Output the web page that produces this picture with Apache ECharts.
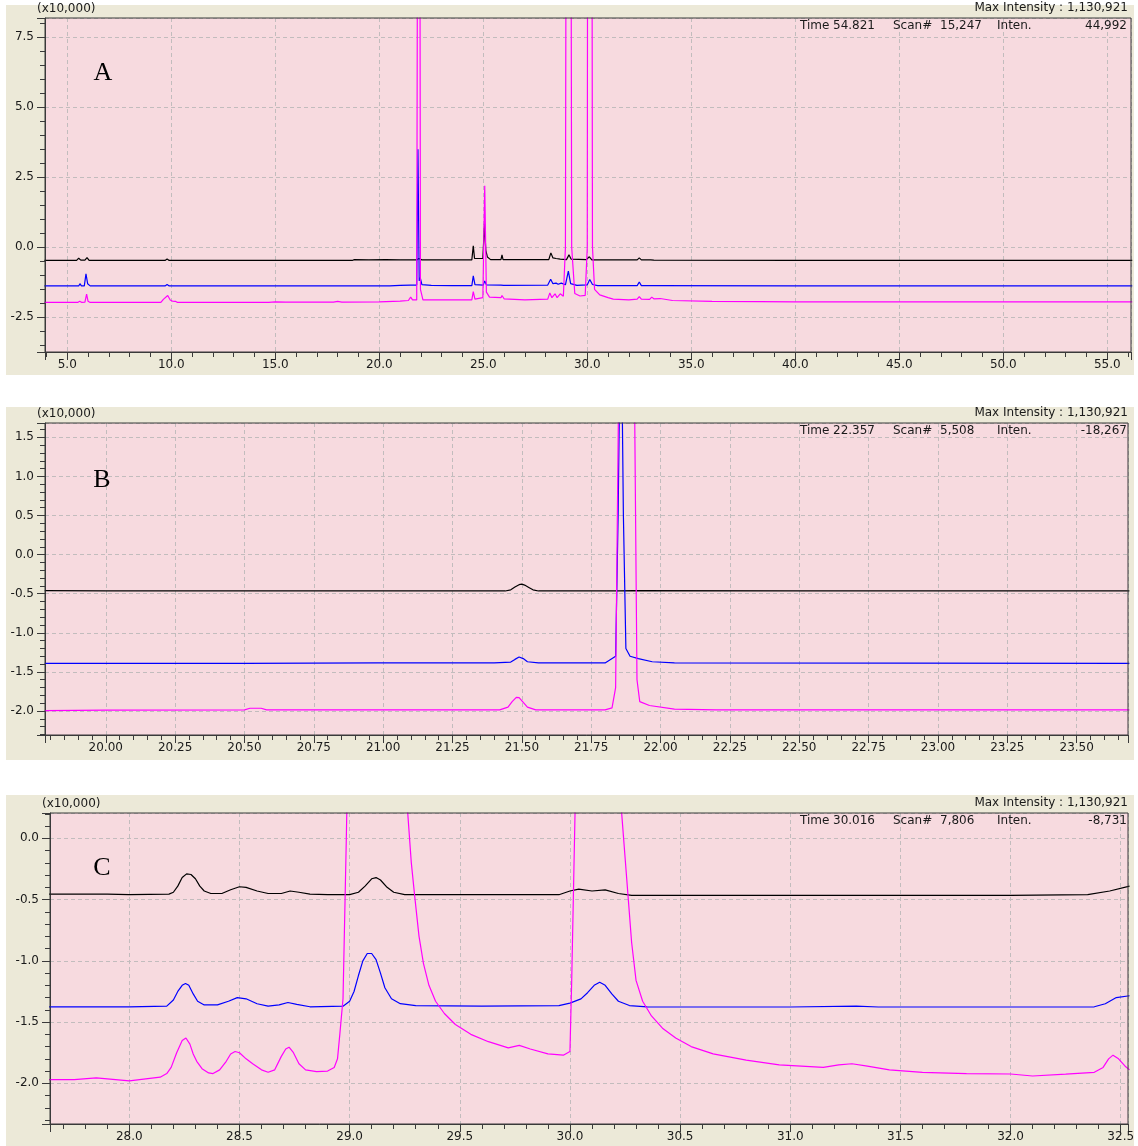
<!DOCTYPE html>
<html>
<head>
<meta charset="utf-8">
<script src="https://cdn.jsdelivr.net/npm/echarts@6.0.0/dist/echarts.min.js"></script>
<style>
html, body { margin: 0; padding: 0; background: #fff; }
#main { width: 1138px; height: 1146px; }
</style>
</head>
<body>
<div id="main"></div>
<script>
// chromatogram traces, [time (min), intensity (x10,000)]

// panel A, full run
const aBlack = [
  [3.9, -0.47], [5.45, -0.47], [5.55, -0.39], [5.65, -0.46], [5.85, -0.46], [5.95, -0.37], [6.05, -0.47],
  [9.7, -0.47], [9.8, -0.42], [9.9, -0.47], [18.7, -0.47], [18.8, -0.44], [19.5, -0.45], [20.3, -0.44],
  [21.0, -0.45], [21.8, -0.45], [21.9, -0.4], [22.05, -0.45], [24.45, -0.45], [24.52, 0.05], [24.58, -0.4],
  [24.98, -0.4], [25.06, 0.85], [25.12, -0.1], [25.2, -0.35], [25.35, -0.44], [25.85, -0.44], [25.9, -0.27],
  [25.95, -0.44], [27.0, -0.44], [28.15, -0.44], [28.25, -0.2], [28.35, -0.38], [28.5, -0.4], [28.7, -0.42],
  [29.0, -0.44], [29.12, -0.27], [29.22, -0.42], [29.95, -0.44], [30.1, -0.34], [30.22, -0.45], [32.4, -0.45],
  [32.5, -0.38], [32.6, -0.45], [33.05, -0.45], [33.1, -0.4], [33.2, -0.46], [40.0, -0.47], [55.0, -0.47], [56.2, -0.47]
];
const aBlue = [
  [3.9, -1.38], [5.55, -1.38], [5.61, -1.3], [5.68, -1.38], [5.82, -1.38], [5.9, -0.95], [5.98, -1.3], [6.1, -1.38],
  [9.7, -1.38], [9.8, -1.33], [9.9, -1.38], [20.5, -1.38], [21.0, -1.36], [21.5, -1.35], [21.8, -1.35],
  [21.86, 3.5], [21.92, -1.2], [21.97, -1.08], [22.05, -1.33], [22.5, -1.36], [23.5, -1.37], [24.45, -1.37],
  [24.52, -1.02], [24.6, -1.33], [25.0, -1.35], [25.07, -1.2], [25.15, -1.34], [25.85, -1.35], [25.9, -1.28],
  [25.98, -1.36], [28.1, -1.35], [28.24, -1.14], [28.35, -1.3], [28.5, -1.28], [28.6, -1.32], [28.75, -1.28],
  [28.95, -1.34], [29.09, -0.85], [29.2, -1.3], [29.5, -1.36], [30.0, -1.34], [30.12, -1.15], [30.25, -1.33],
  [30.5, -1.37], [32.4, -1.37], [32.5, -1.24], [32.6, -1.37], [33.05, -1.37], [33.1, -1.3], [33.2, -1.37],
  [40.0, -1.38], [56.2, -1.38]
];
const aMagenta = [
  [3.9, -1.97], [5.5, -1.97], [5.6, -1.93], [5.7, -1.97], [5.85, -1.96], [5.93, -1.67], [6.0, -1.93], [6.1, -1.97],
  [9.5, -1.97], [9.62, -1.86], [9.7, -1.88], [9.83, -1.72], [9.95, -1.88], [10.05, -1.92], [10.2, -1.93], [10.3, -1.97],
  [14.5, -1.97], [14.59, -1.92], [14.68, -1.97], [15.0, -1.95], [15.5, -1.96], [17.8, -1.96], [18.0, -1.93],
  [18.2, -1.96], [20.0, -1.95], [21.0, -1.92], [21.4, -1.9], [21.51, -1.78], [21.6, -1.88], [21.8, -1.88],
  [21.86, 20], [21.92, 30], [21.98, -1.5], [22.1, -1.88], [24.45, -1.88], [24.52, -1.58], [24.6, -1.85],
  [24.98, -1.8], [25.07, 2.2], [25.15, -1.6], [25.3, -1.78], [25.85, -1.8], [25.9, -1.72], [26.0, -1.84],
  [27.0, -1.88], [28.1, -1.85], [28.2, -1.63], [28.3, -1.8], [28.45, -1.66], [28.55, -1.8], [28.7, -1.66],
  [28.85, -1.75], [28.95, 0], [29.1, 60], [29.25, 0], [29.4, -1.65], [29.65, -1.74], [29.9, -1.72], [30.0, 0],
  [30.1, 80], [30.25, 0], [30.35, -1.5], [30.6, -1.7], [31.0, -1.8], [31.25, -1.85], [32.0, -1.88], [32.4, -1.85],
  [32.5, -1.76], [32.6, -1.85], [33.0, -1.86], [33.1, -1.78], [33.2, -1.84], [33.5, -1.83], [34.1, -1.9],
  [36.0, -1.93], [38.3, -1.94], [40.0, -1.95], [56.2, -1.95]
];

// panel B, 19.8 - 23.7 min
const bBlack = [
  [19.78, -0.46], [20.0, -0.465], [20.5, -0.465], [21.0, -0.465], [21.44, -0.465], [21.46, -0.45], [21.475, -0.415],
  [21.49, -0.385], [21.5, -0.378], [21.51, -0.39], [21.525, -0.42], [21.54, -0.45], [21.56, -0.465], [21.85, -0.465],
  [21.9, -0.46], [22.5, -0.465], [23.0, -0.465], [23.69, -0.465]
];
const bBlue = [
  [19.78, -1.39], [20.5, -1.39], [20.98, -1.385], [21.4, -1.385], [21.46, -1.375], [21.475, -1.34], [21.49, -1.31],
  [21.505, -1.33], [21.52, -1.37], [21.56, -1.385], [21.8, -1.385], [21.838, -1.3], [21.847, 0.5], [21.857, 3.5],
  [21.866, 0.5], [21.875, -1.2], [21.89, -1.3], [21.92, -1.33], [21.97, -1.37], [22.05, -1.385], [23.69, -1.39]
];
const bMagenta = [
  [19.78, -1.995], [20.0, -1.99], [20.5, -1.985], [20.52, -1.965], [20.56, -1.965], [20.58, -1.985], [21.0, -1.985],
  [21.42, -1.985], [21.45, -1.95], [21.465, -1.88], [21.48, -1.825], [21.49, -1.83], [21.505, -1.89], [21.52, -1.95],
  [21.55, -1.985], [21.8, -1.985], [21.825, -1.96], [21.838, -1.7], [21.85, 2.5], [21.88, 12], [21.905, 2.5],
  [21.915, -1.6], [21.925, -1.88], [21.96, -1.93], [22.05, -1.975], [22.2, -1.985], [23.69, -1.985]
];

// panel C, 27.6 - 32.5 min
const cBlack = [
  [27.6, -0.455], [27.9, -0.455], [28.0, -0.46], [28.18, -0.455], [28.2, -0.44], [28.22, -0.39], [28.24, -0.32],
  [28.26, -0.29], [28.28, -0.295], [28.3, -0.33], [28.32, -0.39], [28.34, -0.43], [28.37, -0.45], [28.42, -0.45],
  [28.46, -0.42], [28.5, -0.395], [28.53, -0.4], [28.58, -0.43], [28.63, -0.45], [28.69, -0.45], [28.73, -0.43],
  [28.77, -0.44], [28.82, -0.455], [28.9, -0.46], [29.0, -0.46], [29.04, -0.44], [29.07, -0.39], [29.1, -0.33],
  [29.12, -0.32], [29.14, -0.34], [29.17, -0.4], [29.2, -0.44], [29.25, -0.46], [29.5, -0.46], [29.95, -0.46],
  [30.0, -0.43], [30.04, -0.415], [30.1, -0.43], [30.16, -0.42], [30.22, -0.45], [30.28, -0.465], [31.0, -0.465],
  [31.5, -0.465], [32.0, -0.465], [32.35, -0.46], [32.45, -0.43], [32.54, -0.39]
];
const cBlue = [
  [27.6, -1.375], [28.0, -1.375], [28.17, -1.37], [28.2, -1.32], [28.22, -1.25], [28.24, -1.2], [28.255, -1.185],
  [28.27, -1.2], [28.29, -1.27], [28.31, -1.33], [28.34, -1.36], [28.4, -1.36], [28.45, -1.33], [28.49, -1.3],
  [28.53, -1.31], [28.58, -1.35], [28.63, -1.37], [28.68, -1.36], [28.72, -1.34], [28.76, -1.355], [28.82, -1.375],
  [28.97, -1.37], [29.0, -1.33], [29.02, -1.25], [29.04, -1.12], [29.06, -1.0], [29.08, -0.94], [29.1, -0.94],
  [29.12, -0.99], [29.14, -1.1], [29.16, -1.22], [29.19, -1.31], [29.23, -1.35], [29.3, -1.365], [29.6, -1.37],
  [29.95, -1.365], [30.0, -1.345], [30.05, -1.31], [30.08, -1.26], [30.11, -1.2], [30.135, -1.175], [30.16, -1.2],
  [30.19, -1.27], [30.22, -1.33], [30.27, -1.365], [30.35, -1.375], [31.0, -1.377], [31.3, -1.37], [31.4, -1.377],
  [32.0, -1.377], [32.38, -1.375], [32.43, -1.35], [32.48, -1.3], [32.54, -1.285]
];
const cMagenta = [
  [27.6, -1.97], [27.75, -1.97], [27.85, -1.955], [28.0, -1.98], [28.14, -1.95], [28.17, -1.92], [28.19, -1.87],
  [28.215, -1.75], [28.24, -1.65], [28.257, -1.63], [28.275, -1.68], [28.29, -1.76], [28.306, -1.82], [28.33, -1.88],
  [28.36, -1.915], [28.38, -1.92], [28.41, -1.89], [28.44, -1.82], [28.46, -1.76], [28.48, -1.74], [28.5, -1.75],
  [28.53, -1.8], [28.56, -1.84], [28.6, -1.89], [28.63, -1.91], [28.66, -1.89], [28.69, -1.78], [28.71, -1.72],
  [28.725, -1.705], [28.745, -1.75], [28.77, -1.84], [28.8, -1.89], [28.85, -1.905], [28.9, -1.9], [28.93, -1.87],
  [28.945, -1.8], [28.956, -1.59], [28.97, -1.31], [28.985, 0], [29.0, 1.5], [29.1, 40], [29.2, 3], [29.264, 0.2],
  [29.28, -0.2], [29.297, -0.5], [29.315, -0.8], [29.335, -1.02], [29.36, -1.2], [29.39, -1.33], [29.43, -1.43],
  [29.48, -1.52], [29.55, -1.6], [29.63, -1.66], [29.72, -1.71], [29.77, -1.69], [29.82, -1.72], [29.9, -1.76],
  [29.97, -1.77], [30.0, -1.74], [30.008, -1.16], [30.023, 0.2], [30.1, 60], [30.235, 0.2], [30.25, -0.15],
  [30.265, -0.5], [30.28, -0.85], [30.3, -1.16], [30.33, -1.33], [30.37, -1.45], [30.42, -1.55], [30.48, -1.63],
  [30.55, -1.7], [30.65, -1.76], [30.8, -1.81], [30.95, -1.85], [31.05, -1.86], [31.15, -1.87], [31.22, -1.85],
  [31.28, -1.84], [31.35, -1.86], [31.45, -1.89], [31.6, -1.91], [31.8, -1.92], [32.0, -1.924], [32.1, -1.94],
  [32.25, -1.925], [32.38, -1.91], [32.42, -1.87], [32.445, -1.8], [32.465, -1.77], [32.49, -1.8], [32.52, -1.86],
  [32.54, -1.89]
];

// header texts
const panelNames = ['A', 'B', 'C'];
const headerTime = ['54.821', '22.357', '30.016'];
const headerScan = ['15,247', '5,508', '7,806'];
const headerInten = ['44,992', '-18,267', '-8,731'];
const maxIntensity = 'Max Intensity : 1,130,921';
const yUnit = '(x10,000)';

// layout per panel
const panels = [
  { grid: { left: 45, top: 18, width: 1086, height: 334 }, bgTop: 5, bgH: 370, letter: [103, 73],
    x: [3.93, 56.14, 5, 1], y: [-3.74, 8.19, 2.5, 1] },
  { grid: { left: 45, top: 423, width: 1083, height: 312 }, bgTop: 407, bgH: 353, letter: [102, 480],
    x: [19.781, 23.685, 0.25, 2], y: [-2.307, 1.683, 0.5, 1] },
  { grid: { left: 50, top: 813, width: 1078, height: 311 }, bgTop: 795, bgH: 351, letter: [102, 868],
    x: [27.64, 32.533, 0.5, 1], y: [-2.332, 0.207, 0.5, 1] }
];
const traces = [[aBlack, aBlue, aMagenta], [bBlack, bBlue, bMagenta], [cBlack, cBlue, cMagenta]];
const colors = ['#000000', '#0000ff', '#ff00ff'];

const dark = '#3a3a3a';
const txt = '#1a1a1a';
const font = 'DejaVu Sans';

function axisOf(i, r, isX) {
  const step = r[2], digits = r[3];
  return {
    type: 'value', gridIndex: i, min: r[0], max: r[1],
    minInterval: step, maxInterval: step,
    axisLine: { show: true, onZero: false, lineStyle: { color: dark, width: 1 } },
    axisTick: { show: true, length: 8, lineStyle: { color: dark } },
    minorTick: { show: true, splitNumber: 5, length: 5, lineStyle: { color: dark } },
    splitLine: { show: true, lineStyle: { color: '#c2bcbd', type: [4, 3], width: 1 } },
    axisLabel: {
      showMinLabel: true, showMaxLabel: true,
      formatter: function (v) {
        const k = v / step;
        if (Math.abs(k - Math.round(k)) > 1e-6) return '';
        return v.toFixed(digits);
      },
      color: txt, fontFamily: font, fontSize: 12, margin: isX ? 7 : 11
    }
  };
}

const grids = [], xAxes = [], yAxes = [], series = [], graphic = [];
panels.forEach(function (p, i) {
  grids.push(Object.assign({ show: true, backgroundColor: '#f7dadf', borderWidth: 0 }, p.grid));
  xAxes.push(axisOf(i, p.x, true));
  yAxes.push(axisOf(i, p.y, false));
  traces[i].forEach(function (d, j) {
    series.push({
      type: 'line', xAxisIndex: i, yAxisIndex: i, data: d,
      symbol: 'none', showSymbol: false, clip: true, silent: true,
      lineStyle: { color: colors[j], width: 1.2 }, itemStyle: { color: colors[j] }
    });
  });
  const g = p.grid;
  graphic.push({ type: 'rect', z: -10, shape: { x: 6, y: p.bgTop, width: 1128, height: p.bgH }, style: { fill: '#ece9d8' } });
  graphic.push({ type: 'rect', z: 100, shape: { x: g.left, y: g.top, width: g.width, height: g.height }, style: { fill: null, stroke: dark, lineWidth: 1 } });
  const t = function (text, x, y, align) {
    return { type: 'text', z: 101, x: x, y: y, style: { text: text, fill: txt, font: '12px "' + font + '"', align: align || 'left', verticalAlign: 'middle' } };
  };
  graphic.push(t(yUnit, g.left - 8, g.top - 9));
  graphic.push(t(maxIntensity, 1128, g.top - 10, 'right'));
  graphic.push(t('Time', 800, g.top + 8));
  graphic.push(t(headerTime[i], 833, g.top + 8));
  graphic.push(t('Scan#', 893, g.top + 8));
  graphic.push(t(headerScan[i], 940, g.top + 8));
  graphic.push(t('Inten.', 997, g.top + 8));
  graphic.push(t(headerInten[i], 1127, g.top + 8, 'right'));
  graphic.push({ type: 'text', z: 101, x: p.letter[0], y: p.letter[1],
    style: { text: panelNames[i], fill: '#000', font: '26px "Liberation Serif"', align: 'center', verticalAlign: 'middle' } });
});

const chart = echarts.init(document.getElementById('main'));
chart.setOption({
  animation: false,
  backgroundColor: '#ffffff',
  grid: grids,
  xAxis: xAxes,
  yAxis: yAxes,
  series: series,
  graphic: graphic
});
</script>
</body>
</html>
